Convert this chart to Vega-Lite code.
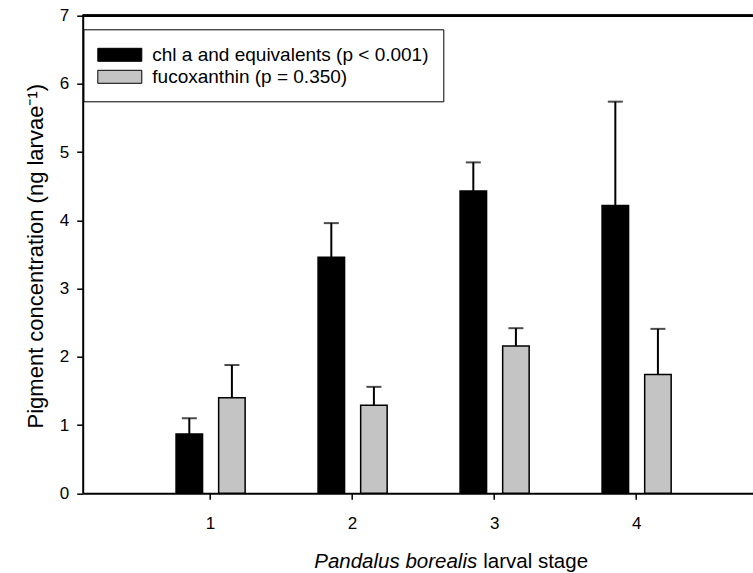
{
  "$schema": "https://vega.github.io/schema/vega-lite/v6.json",
  "width": 670,
  "height": 477.6,
  "autosize": "none",
  "padding": {"left": 82.7, "top": 15.7, "right": 0.3, "bottom": 79.7},
  "background": "white",
  "config": {
    "view": {"stroke": null},
    "font": "Liberation Sans",
    "axis": {
      "domainColor": "black", "domainWidth": 2,
      "tickColor": "black", "tickWidth": 1.5, "tickSize": 6,
      "labelColor": "black", "titleColor": "black",
      "labelFont": "Liberation Sans", "titleFont": "Liberation Sans",
      "titleFontWeight": "normal", "grid": false
    }
  },
  "data": {
    "values": [
      {"stage": "1", "pigment": "chl a and equivalents (p < 0.001)", "mean": 0.87, "upper": 1.10},
      {"stage": "1", "pigment": "fucoxanthin (p = 0.350)", "mean": 1.40, "upper": 1.88},
      {"stage": "2", "pigment": "chl a and equivalents (p < 0.001)", "mean": 3.46, "upper": 3.96},
      {"stage": "2", "pigment": "fucoxanthin (p = 0.350)", "mean": 1.29, "upper": 1.56},
      {"stage": "3", "pigment": "chl a and equivalents (p < 0.001)", "mean": 4.43, "upper": 4.85},
      {"stage": "3", "pigment": "fucoxanthin (p = 0.350)", "mean": 2.16, "upper": 2.42},
      {"stage": "4", "pigment": "chl a and equivalents (p < 0.001)", "mean": 4.22, "upper": 5.74},
      {"stage": "4", "pigment": "fucoxanthin (p = 0.350)", "mean": 1.74, "upper": 2.41}
    ]
  },
  "resolve": {"axis": {"x": "independent"}},
  "layer": [
    {
      "mark": {"type": "bar", "stroke": "black", "strokeWidth": 1.5},
      "encoding": {
        "x": {
          "field": "stage", "type": "ordinal",
          "scale": {"paddingInner": 0, "paddingOuter": 0.359, "align": 0.558},
          "axis": {
            "orient": "bottom", "labelAngle": 0, "labelFontSize": 17,
            "labelBaseline": "alphabetic", "labelPadding": 29,
            "title": "Pandalus borealis", "titleFontStyle": "italic", "titleFontSize": 20.5,
            "titleAlign": "right", "titleX": 394, "titleY": 74.5, "titleBaseline": "alphabetic"
          }
        },
        "xOffset": {
          "field": "pigment", "type": "nominal",
          "scale": {"domain": ["chl a and equivalents (p < 0.001)", "fucoxanthin (p = 0.350)"], "paddingInner": 0.378, "paddingOuter": 0.856}
        },
        "y": {
          "field": "mean", "type": "quantitative",
          "scale": {"domain": [0, 7], "nice": false},
          "title": "Pigment concentration (ng larvae⁻¹)",
          "axis": {
            "values": [0, 1, 2, 3, 4, 5, 6, 7], "format": "d", "labelFontSize": 17, "labelPadding": 8,
            "titleFontSize": 22, "titleX": -40.4, "titleY": 240, "titleAlign": "center",
            "titleBaseline": "alphabetic", "titleAngle": -90
          }
        },
        "fill": {
          "field": "pigment", "type": "nominal",
          "scale": {"domain": ["chl a and equivalents (p < 0.001)", "fucoxanthin (p = 0.350)"], "range": ["black", "#c4c4c4"]},
          "legend": {
            "orient": "none", "legendX": 0.6, "legendY": 13.6, "title": null,
            "strokeColor": "black", "padding": 14,
            "symbolType": "M-1,-0.59H3V0.59H-1Z", "symbolSize": 484,
            "symbolStrokeColor": "black", "symbolStrokeWidth": 1, "symbolOpacity": 1,
            "labelFontSize": 19, "labelFont": "Liberation Sans", "labelColor": "black",
            "labelOffset": 32, "rowPadding": -1, "labelLimit": 400
          }
        }
      }
    },
    {
      "mark": {"type": "rule", "color": "black", "strokeWidth": 2},
      "encoding": {
        "x": {
          "field": "stage", "type": "ordinal",
          "axis": {
            "orient": "bottom", "domain": false, "ticks": false, "labels": false,
            "title": "larval stage", "titleFontSize": 20.5, "titleAlign": "left",
            "titleX": 400, "titleY": 74.5, "titleBaseline": "alphabetic"
          }
        },
        "xOffset": {"field": "pigment", "type": "nominal"},
        "y": {"field": "mean", "type": "quantitative", "title": "Pigment concentration (ng larvae⁻¹)"},
        "y2": {"field": "upper"}
      }
    },
    {
      "mark": {"type": "tick", "orient": "horizontal", "color": "black", "size": 15, "thickness": 2},
      "encoding": {
        "x": {"field": "stage", "type": "ordinal", "axis": null},
        "xOffset": {"field": "pigment", "type": "nominal"},
        "y": {"field": "upper", "type": "quantitative", "title": "Pigment concentration (ng larvae⁻¹)"}
      }
    },
    {
      "mark": {"type": "rule", "color": "black", "strokeWidth": 2},
      "encoding": {
        "y": {"datum": 7, "type": "quantitative", "title": "Pigment concentration (ng larvae⁻¹)"}
      }
    }
  ]
}
